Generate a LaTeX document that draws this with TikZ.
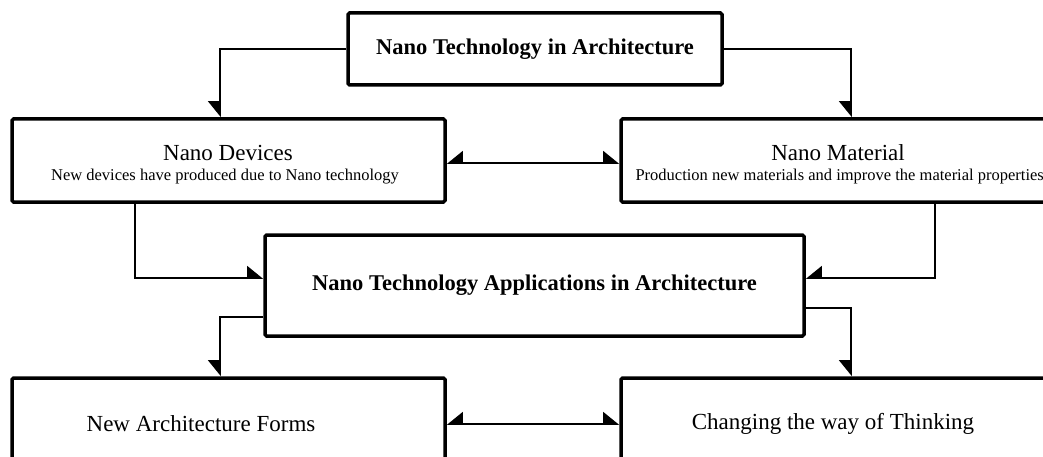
\documentclass[tikz,border=0pt]{standalone}
\usepackage{fontspec}
\setmainfont{Liberation Serif}
\usetikzlibrary{arrows.meta}
\tikzset{
  box/.style={draw, line width=3.5pt, rounded corners=1.5pt, inner sep=0pt, fill=white},
  conn/.style={line width=1.8pt},
  HarpL/.tip={Triangle[harpoon, length=15pt, width=24pt]},
  HarpR/.tip={Triangle[harpoon, swap, length=15pt, width=24pt]},
  big/.style={font=\fontsize{23}{27}\selectfont},
  bigb/.style={font=\fontsize{22.5}{27}\selectfont\bfseries},
  small/.style={font=\fontsize{16.5}{20}\selectfont},
}
\begin{document}
\begin{tikzpicture}[x=1pt, y=-1pt]
\useasboundingbox (0,0) rectangle (1043,457);
\clip (0,0) rectangle (1043,457);
\fill[white] (0,0) rectangle (1043,457);
% boxes
\node[box, bigb, minimum width=374pt, minimum height=72pt] (top) at (535,49) {Nano Technology in Architecture};
\node[box, minimum width=433pt, minimum height=83pt] (nd) at (228.5,160.5) {};
\node[box, minimum width=431pt, minimum height=83pt] (nm) at (836.5,160.5) {};
\node[box, bigb, minimum width=539pt, minimum height=101pt] (app) at (534.5,285.5) {Nano Technology Applications in Architecture};
\node[box, minimum width=433pt, minimum height=102pt] (na) at (228.5,429) {};
\node[box, minimum width=431pt, minimum height=102pt] (ch) at (836.5,429) {};
% texts
\node[big] (ndt) at (228,153) {Nano Devices};
\node[small] (nds) at (225,177) {New devices have produced due to Nano technology};
\node[big] (nmt) at (838,153) {Nano Material};
\node[small, anchor=west] (nms) at (632,177) {Production new materials and improve the material properties};
\node[big] (nat) at (201,424) {New Architecture Forms};
\node[big] (cht) at (833,424) {Changing the way of Thinking};
% connectors
\draw[conn, -{HarpR}] (top.west) -| ([xshift=-8.5pt]nd.north);
\draw[conn, -{HarpR}] (top.east) -| ([xshift=14.5pt]nm.north);
\draw[conn, {HarpR}-{HarpL}] ([yshift=-2.5pt]nd.east) -- ([yshift=-2.5pt]nm.west);
\draw[conn, -{HarpL}] ([xshift=-93.5pt]nd.south) |- ([yshift=7.5pt]app.west);
\draw[conn, -{HarpR}] ([xshift=98.5pt]nm.south) |- ([yshift=7.5pt]app.east);
\draw[conn, -{HarpR}] ([yshift=-31.5pt]app.west) -| ([xshift=-8.5pt]na.north);
\draw[conn, -{HarpR}] ([yshift=-22.5pt]app.east) -| ([xshift=14.5pt]ch.north);
\draw[conn, {HarpR}-{HarpL}] ([yshift=5pt]na.east) -- ([yshift=5pt]ch.west);
\end{tikzpicture}
\end{document}
